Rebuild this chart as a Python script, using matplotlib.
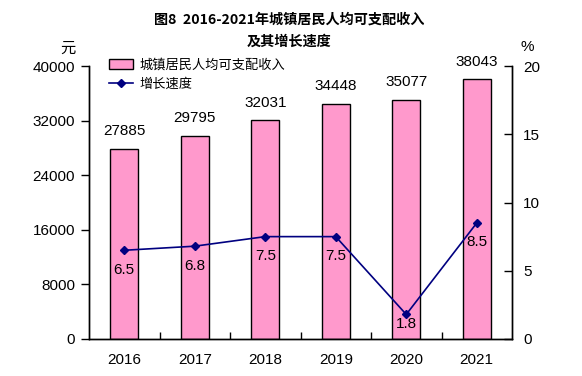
import matplotlib
matplotlib.use("Agg")
import matplotlib.pyplot as plt
from matplotlib.lines import Line2D
from matplotlib.patches import Patch
import numpy as np

years = ["2016", "2017", "2018", "2019", "2020", "2021"]
income = [27885, 29795, 32031, 34448, 35077, 38043]
growth = [6.5, 6.8, 7.5, 7.5, 1.8, 8.5]
left_ticks = [0, 8000, 16000, 24000, 32000, 40000]
right_ticks = [0, 5, 10, 15, 20]

title_line1 = "图8  2016-2021年城镇居民人均可支配收入"
title_line2 = "及其增长速度"
bar_name = "城镇居民人均可支配收入"
line_name = "增长速度"

cjk = ["Noto Sans CJK SC", "DejaVu Sans"]
num_font = ["Liberation Sans", "DejaVu Sans"]

fig = plt.figure(figsize=(5.82, 3.76), dpi=100)
ax = fig.add_axes([89/582, 1-339/376, (512-89)/582, (339-66)/376])
ax2 = ax.twinx()

x = np.arange(len(years))
bar_color = "#FF99CC"
line_color = "#000080"

ax.bar(x, income, width=0.4, color=bar_color, edgecolor="black", linewidth=1.0, zorder=2)
ax.set_xlim(-0.5, len(years)-0.5)
ax.set_ylim(0, 40000)
ax.set_yticks(left_ticks)
ax.set_yticklabels([str(v) for v in left_ticks], fontfamily=num_font, fontsize=11)
ax.set_xticks(x)
ax.set_xticklabels(years, fontfamily=num_font, fontsize=11)
ax.tick_params(axis="x", which="major", length=0, pad=10)
ax.set_xticks(np.arange(0.5, len(years)-1, 1.0), minor=True)
ax.tick_params(axis="x", which="minor", direction="in", length=5, width=1)
ax.tick_params(axis="y", direction="out", length=6, width=1, pad=4)
for s in ["top"]:
    ax.spines[s].set_visible(False)
    ax2.spines[s].set_visible(False)
for s in ["left", "bottom", "right"]:
    ax.spines[s].set_linewidth(1.0)
    ax2.spines[s].set_linewidth(1.0)

for xi, v in zip(x, income):
    ax.annotate(str(v), (xi, v), xytext=(0, 7.5), textcoords="offset points",
                ha="center", va="bottom", fontsize=11, fontfamily=num_font)

ax2.plot(x, growth, color=line_color, marker="D", markersize=4, linewidth=1.2, zorder=3)
ax2.set_ylim(0, 20)
ax2.set_yticks(right_ticks)
ax2.set_yticklabels([str(v) for v in right_ticks], fontfamily=num_font, fontsize=11)
ax2.tick_params(axis="y", direction="in", length=6, width=1, pad=8)

for xi, v in zip(x, growth):
    off = -9 if v > 3 else -2
    ax2.annotate(f"{v}", (xi, v), xytext=(0, off), textcoords="offset points",
                 ha="center", va="top", fontsize=11, fontfamily=num_font)

fig.text(289/582, 1-20/376, title_line1, ha="center", va="center", fontsize=10.2,
         fontweight="bold", fontfamily=cjk)
fig.text(289/582, 1-42/376, title_line2, ha="center", va="center", fontsize=10.2,
         fontweight="bold", fontfamily=cjk)
fig.text(68/582, 1-48/376, "元", ha="center", va="center", fontsize=11, fontfamily=cjk)
fig.text(527/582, 1-47/376, "%", ha="center", va="center", fontsize=11, fontfamily=num_font)

handles = [Patch(facecolor=bar_color, edgecolor="black", linewidth=1.0),
           Line2D([0], [0], color=line_color, marker="D", markersize=4, linewidth=1.2)]
leg = ax.legend(handles, [bar_name, line_name], loc="upper left",
                bbox_to_anchor=(0.02, 1.07), frameon=False,
                prop={"family": cjk, "size": 9.5}, handlelength=1.8,
                handleheight=0.8, labelspacing=0.45, handletextpad=0.5)

fig.savefig("out.png", dpi=100)
